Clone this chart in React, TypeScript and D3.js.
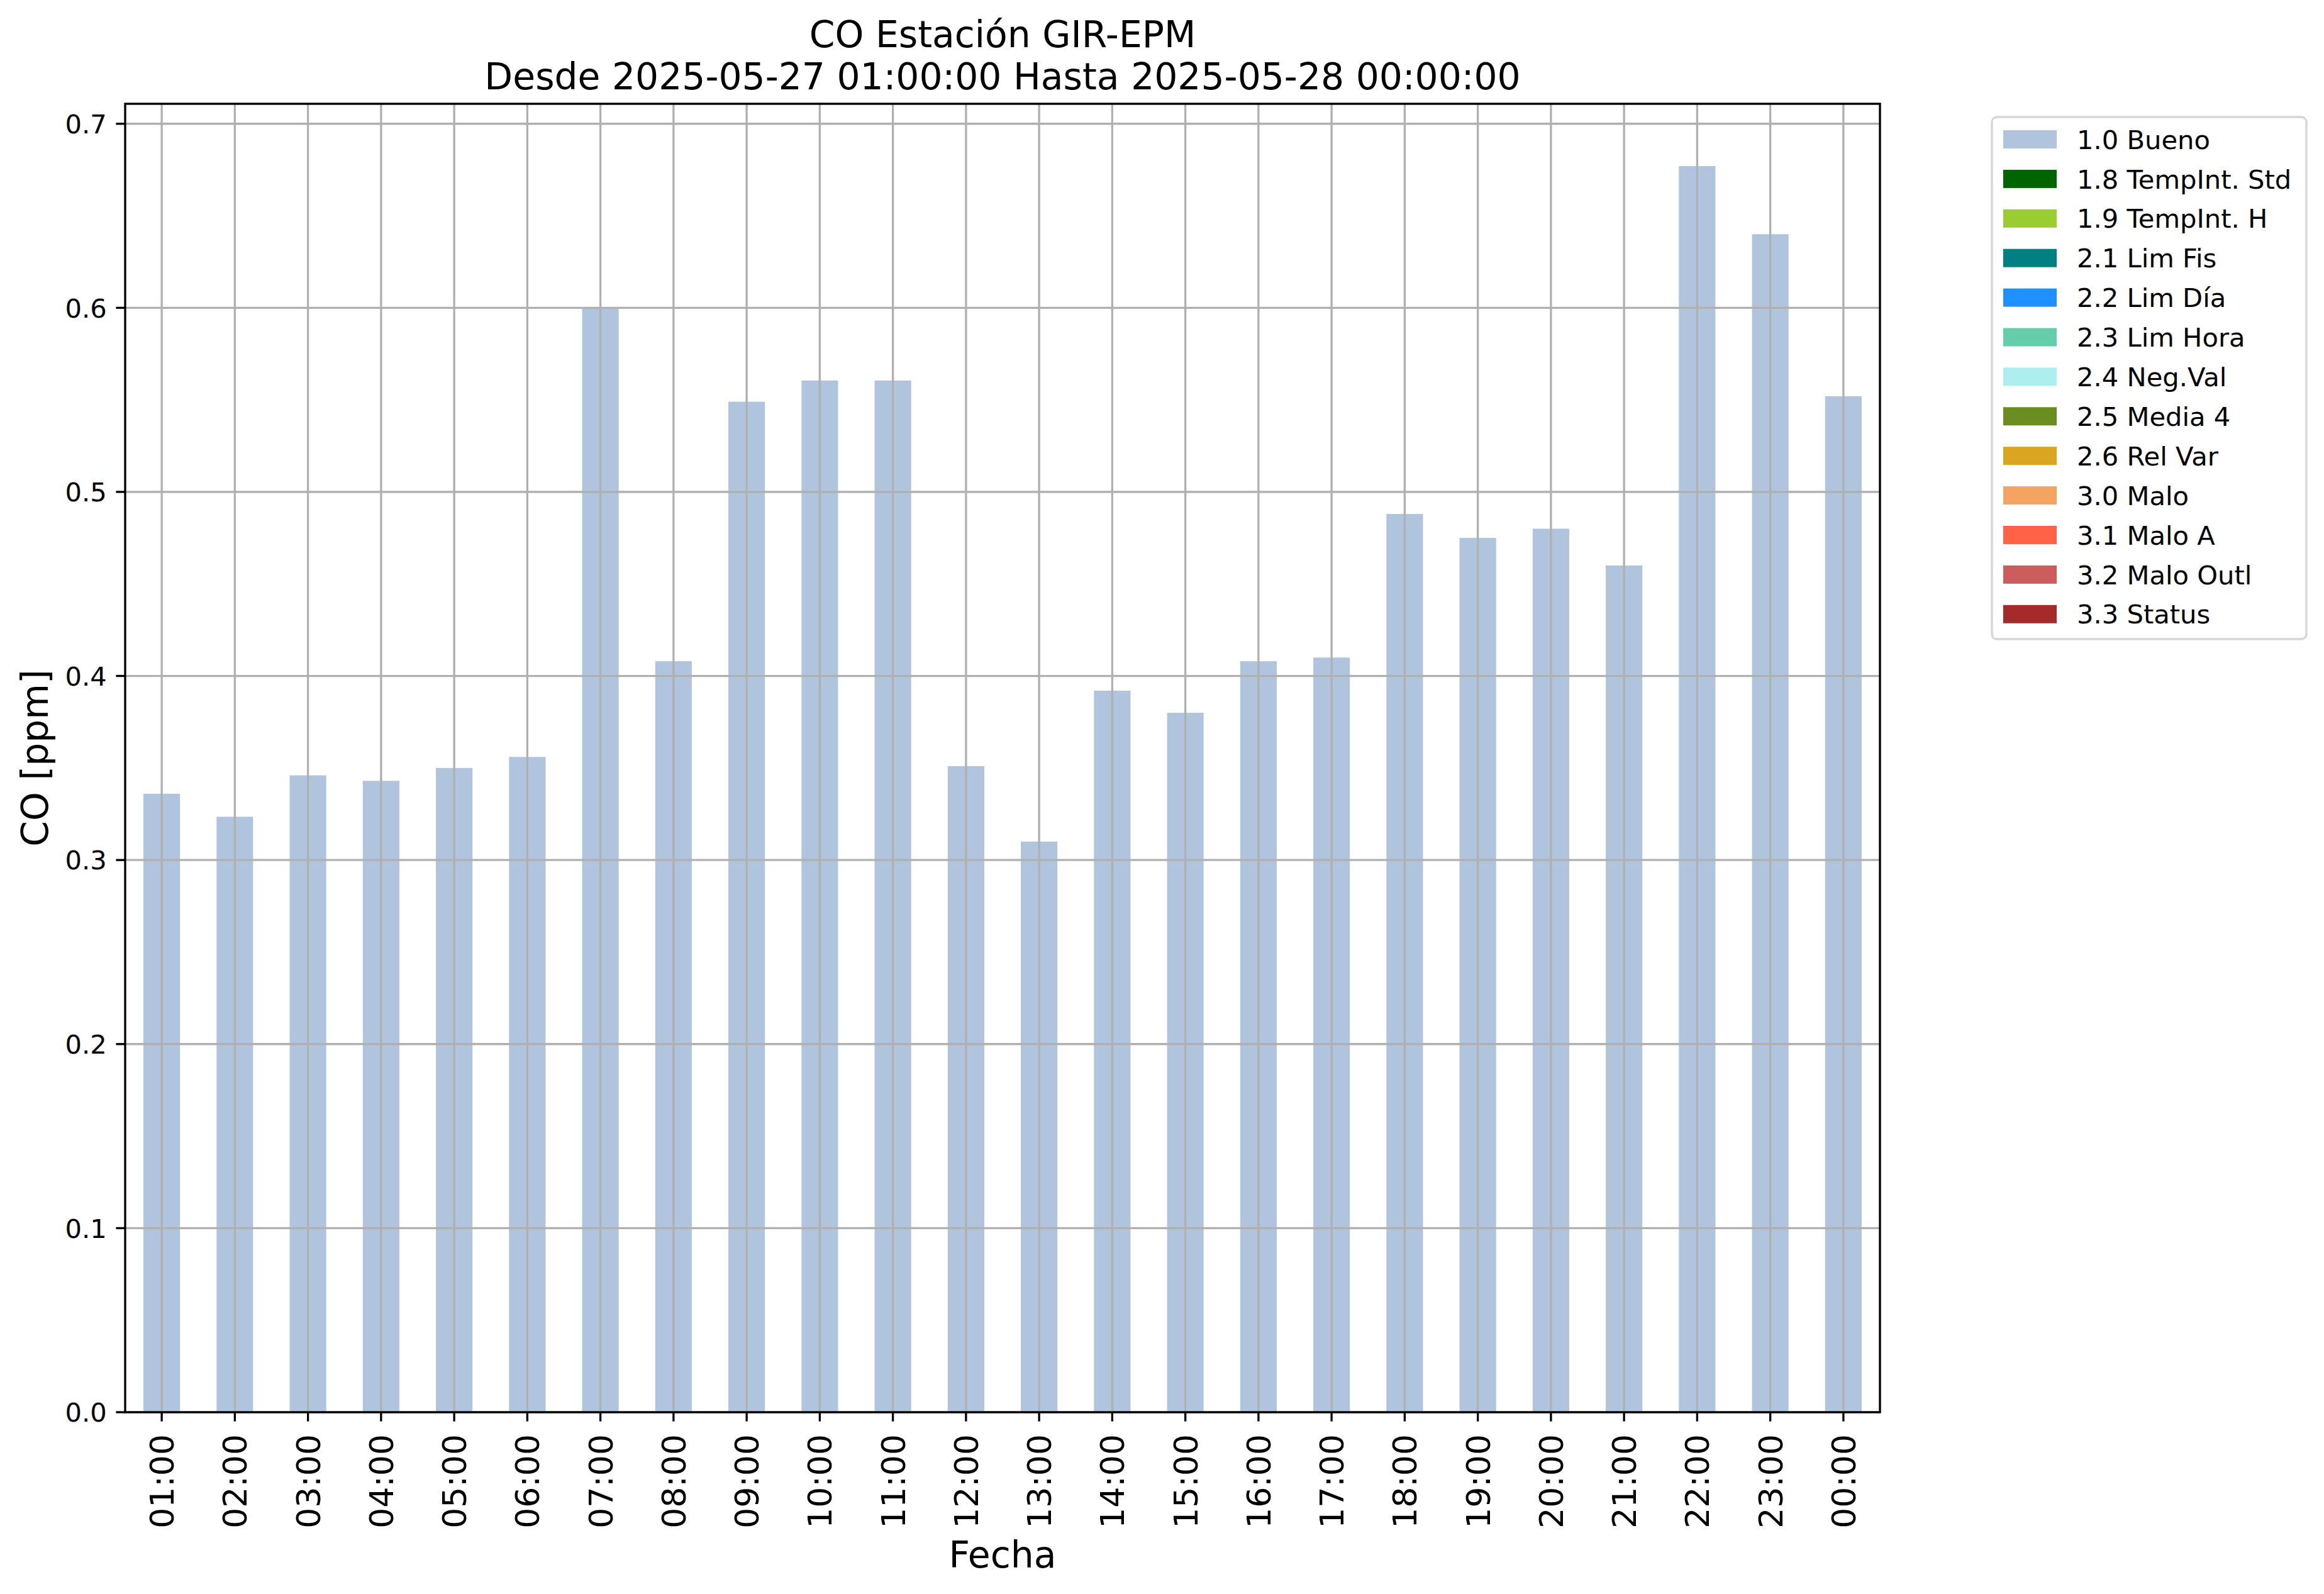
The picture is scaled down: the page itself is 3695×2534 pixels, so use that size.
import React from "react";
import * as d3 from "d3";

const horas = [
  "01:00", "02:00", "03:00", "04:00", "05:00", "06:00", "07:00", "08:00",
  "09:00", "10:00", "11:00", "12:00", "13:00", "14:00", "15:00", "16:00",
  "17:00", "18:00", "19:00", "20:00", "21:00", "22:00", "23:00", "00:00",
];

const valoresCO = [
  0.336, 0.3235, 0.346, 0.343, 0.350, 0.356, 0.600, 0.408,
  0.549, 0.5605, 0.5605, 0.351, 0.310, 0.392, 0.380, 0.408,
  0.410, 0.488, 0.475, 0.480, 0.460, 0.677, 0.640, 0.552,
];

const yTicks = [0.0, 0.1, 0.2, 0.3, 0.4, 0.5, 0.6, 0.7];

const leyendaNombres = [
  "1.0 Bueno", "1.8 TempInt. Std", "1.9 TempInt. H", "2.1 Lim Fis",
  "2.2 Lim Día", "2.3 Lim Hora", "2.4 Neg.Val", "2.5 Media 4",
  "2.6 Rel Var", "3.0 Malo", "3.1 Malo A", "3.2 Malo Outl", "3.3 Status",
];

const leyendaColores = [
  "#b0c4de", "#006400", "#9acd32", "#008080", "#1e90ff", "#66cdaa",
  "#afeeee", "#6b8e23", "#daa520", "#f4a460", "#ff6347", "#cd5c5c", "#a52a2a",
];

const W = 3695;
const H = 2534;
const left = 199;
const right = 2989;
const top = 165;
const bottom = 2245;

const pt = 300 / 72;
const font = "DejaVu Sans";

export default function App() {
  const x = d3.scaleBand<string>()
    .domain(horas)
    .range([left, right])
    .paddingInner(0.5)
    .paddingOuter(0.25);

  const y = d3.scaleLinear()
    .domain([0, (d3.max(valoresCO) || 1) * 1.05])
    .range([bottom, top]);

  const bw = x.bandwidth();
  const cx = (h: string) => (x(h) || 0) + bw / 2;

  const tickLen = 3.5 * pt;
  const lw = 0.8 * pt;
  const fsTick = 10 * pt;
  const fsX = 52;
  const fsLabel = 14 * pt;
  const fsLeg = 10 * pt;

  // legend
  const legX = 3167;
  const legY = 186;
  const legW = 500;
  const legH = 830;
  const rowPitch = 62.9;
  const patchW = 85;
  const patchH = 29;

  return (
    <svg width={W} height={H} viewBox={`0 0 ${W} ${H}`}
      style={{ position: "absolute", left: 0, top: 0, background: "#fff" }}
      fontFamily={font}>
      <rect x={0} y={0} width={W} height={H} fill="#fff" />

      {/* barras */}
      {valoresCO.map((v, i) => (
        <rect key={horas[i]} x={x(horas[i])} y={y(v)} width={bw}
          height={bottom - y(v)} fill="#b0c4de" />
      ))}

      {/* grid */}
      {yTicks.map(t => (
        <line key={"gy" + t} x1={left} x2={right} y1={y(t)} y2={y(t)}
          stroke="#b0b0b0" strokeWidth={lw} />
      ))}
      {horas.map(h => (
        <line key={"gx" + h} x1={cx(h)} x2={cx(h)} y1={top} y2={bottom}
          stroke="#b0b0b0" strokeWidth={lw} />
      ))}

      {/* marco */}
      <rect x={left} y={top} width={right - left} height={bottom - top}
        fill="none" stroke="#000" strokeWidth={lw} />

      {/* eje y */}
      {yTicks.map(t => (
        <g key={"ty" + t}>
          <line x1={left - tickLen} x2={left} y1={y(t)} y2={y(t)}
            stroke="#000" strokeWidth={lw} />
          <text x={left - tickLen - 3.5 * pt} y={y(t) + 0.364 * fsTick}
            fontSize={fsTick} textAnchor="end">{t.toFixed(1)}</text>
        </g>
      ))}

      {/* eje x */}
      {horas.map(h => (
        <g key={"tx" + h}>
          <line x1={cx(h)} x2={cx(h)} y1={bottom} y2={bottom + tickLen}
            stroke="#000" strokeWidth={lw} />
          <text transform={`translate(${cx(h) + 0.364 * fsX},${2280}) rotate(-90)`}
            fontSize={fsX} textAnchor="end">{h}</text>
        </g>
      ))}

      {/* etiquetas */}
      <text x={(left + right) / 2} y={2492} fontSize={fsLabel} textAnchor="middle">Fecha</text>
      <text transform={`translate(76,${(top + bottom) / 2}) rotate(-90)`}
        fontSize={fsLabel} textAnchor="middle">CO [ppm]</text>

      {/* título */}
      <text x={(left + right) / 2} y={75} fontSize={fsLabel} textAnchor="middle">CO Estación GIR-EPM</text>
      <text x={(left + right) / 2} y={142} fontSize={fsLabel} textAnchor="middle">Desde 2025-05-27 01:00:00 Hasta 2025-05-28 00:00:00</text>

      {/* leyenda */}
      <rect x={legX} y={legY} width={legW} height={legH} rx={8} ry={8}
        fill="#fff" fillOpacity={0.8} stroke="#cccccc" strokeOpacity={0.8} strokeWidth={lw} />
      {leyendaNombres.map((n, i) => {
        const cy = 221.5 + i * rowPitch;
        return (
          <g key={n}>
            <rect x={3185} y={cy - patchH / 2} width={patchW} height={patchH}
              fill={leyendaColores[i]} />
            <text x={3302} y={cy + 0.364 * fsLeg} fontSize={fsLeg}>{n}</text>
          </g>
        );
      })}
    </svg>
  );
}
